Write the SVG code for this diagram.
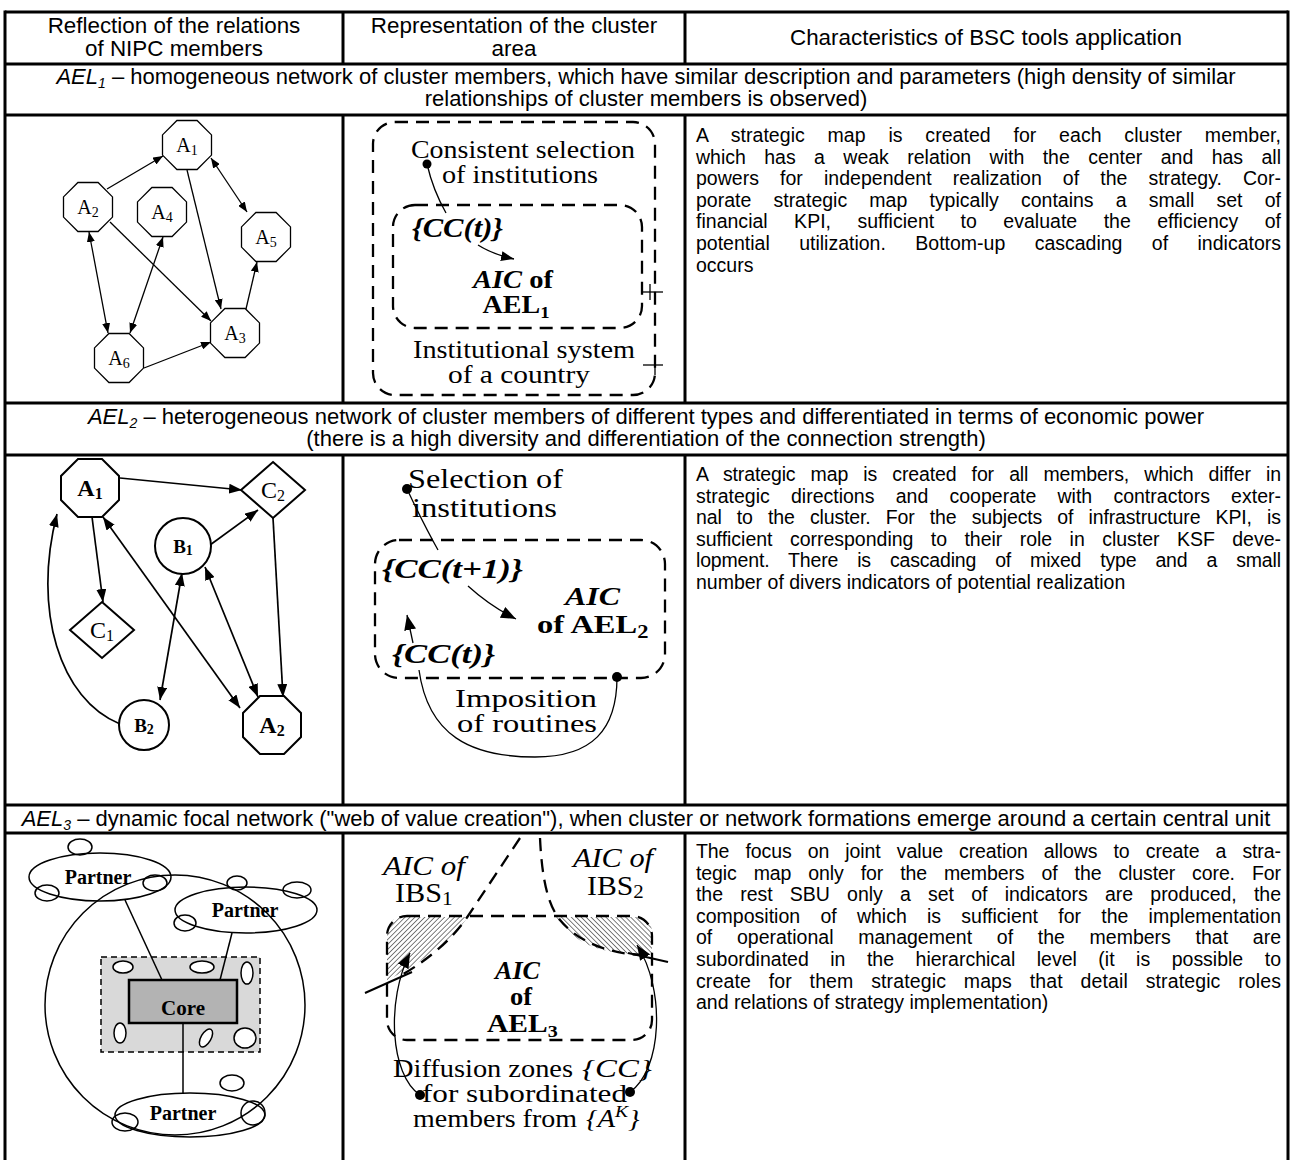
<svg xmlns="http://www.w3.org/2000/svg" width="1293" height="1160" viewBox="0 0 1293 1160">
<defs>
<style>
.sans{font-family:"Liberation Sans",Arial,sans-serif;fill:#000}
.hd{font-size:22.4px}
.ah{font-size:22px}
.bd{font-size:19.5px}
.ser{font-family:"Liberation Serif","Times New Roman",serif;fill:#000}
.grid{stroke:#000;stroke-width:3;fill:none}
.e1{stroke:#000;stroke-width:1.3;fill:none}
.e2{stroke:#000;stroke-width:1.7;fill:none}
.n1{fill:#fff;stroke:#000;stroke-width:1.3}
.n2{fill:#fff;stroke:#000;stroke-width:2}
.dash{fill:none;stroke:#000;stroke-width:2.3;stroke-dasharray:13 8}
.thin{stroke:#000;stroke-width:1.5;fill:none}
</style>
<marker id="a1" markerWidth="10" markerHeight="8" refX="10" refY="4" orient="auto-start-reverse" markerUnits="userSpaceOnUse"><path d="M0,0 L10,4 L0,8 z" fill="#000"/></marker>
<marker id="a2" markerWidth="13" markerHeight="10" refX="13" refY="5" orient="auto-start-reverse" markerUnits="userSpaceOnUse"><path d="M0,0 L13,5 L0,10 z" fill="#000"/></marker>
<marker id="a3" markerWidth="15" markerHeight="12" refX="15" refY="6" orient="auto-start-reverse" markerUnits="userSpaceOnUse"><path d="M0,0 L15,6 L0,12 z" fill="#000"/></marker>
<polygon id="oct1" points="-10.1,-24.5 10.1,-24.5 24.5,-10.1 24.5,10.1 10.1,24.5 -10.1,24.5 -24.5,10.1 -24.5,-10.1"/>
<polygon id="oct2" points="-12,-29 12,-29 29,-12 29,12 12,29 -12,29 -29,12 -29,-12"/>
<pattern id="hatchL" width="3.5" height="3.5" patternUnits="userSpaceOnUse" patternTransform="rotate(45)"><line x1="0" y1="0" x2="0" y2="3.5" stroke="#000" stroke-width="1"/></pattern>
<pattern id="hatchR" width="3.5" height="3.5" patternUnits="userSpaceOnUse" patternTransform="rotate(-45)"><line x1="0" y1="0" x2="0" y2="3.5" stroke="#000" stroke-width="1"/></pattern>
</defs>
<rect width="1293" height="1160" fill="#fff"/>

<g id="table-grid" class="grid">
<line x1="5" y1="12" x2="1288" y2="12"/>
<line x1="5" y1="64" x2="1288" y2="64"/>
<line x1="5" y1="115" x2="1288" y2="115"/>
<line x1="5" y1="403" x2="1288" y2="403"/>
<line x1="5" y1="455" x2="1288" y2="455"/>
<line x1="5" y1="805" x2="1288" y2="805"/>
<line x1="5" y1="833" x2="1288" y2="833"/>
<line x1="5" y1="10.5" x2="5" y2="1160"/>
<line x1="1288" y1="10.5" x2="1288" y2="1160"/>
<line x1="343" y1="12" x2="343" y2="64"/>
<line x1="685" y1="12" x2="685" y2="64"/>
<line x1="343" y1="115" x2="343" y2="403"/>
<line x1="685" y1="115" x2="685" y2="403"/>
<line x1="343" y1="455" x2="343" y2="805"/>
<line x1="685" y1="455" x2="685" y2="805"/>
<line x1="343" y1="833" x2="343" y2="1160"/>
<line x1="685" y1="833" x2="685" y2="1160"/>
</g>

<g id="header" class="sans hd" text-anchor="middle">
<text x="174" y="33">Reflection of the relations</text>
<text x="174" y="56">of NIPC members</text>
<text x="514" y="33">Representation of the cluster</text>
<text x="514" y="56">area</text>
<text x="986" y="45">Characteristics of BSC tools application</text>
</g>

<g id="heading-ael1" class="sans ah" text-anchor="middle">
<text x="646" y="84"><tspan font-style="italic">AEL</tspan><tspan font-style="italic" font-size="14" dy="4">1</tspan><tspan dy="-4"> – homogeneous network of cluster members, which have similar description and parameters (high density of similar</tspan></text>
<text x="646" y="106">relationships of cluster members is observed)</text>
</g>

<g id="heading-ael2" class="sans ah" text-anchor="middle">
<text x="646" y="424"><tspan font-style="italic">AEL</tspan><tspan font-style="italic" font-size="14" dy="4">2</tspan><tspan dy="-4"> – heterogeneous network of cluster members of different types and differentiated in terms of economic power</tspan></text>
<text x="646" y="446">(there is a high diversity and differentiation of the connection strength)</text>
</g>

<g id="heading-ael3" class="sans ah" text-anchor="middle">
<text x="646" y="826"><tspan font-style="italic">AEL</tspan><tspan font-style="italic" font-size="14" dy="4">3</tspan><tspan dy="-4"> – dynamic focal network ("web of value creation"), when cluster or network formations emerge around a certain central unit</tspan></text>
</g>

<g id="text-ael1" class="sans bd">
<text x="696" y="142" word-spacing="17.3" textLength="585" lengthAdjust="spacing">A strategic map is created for each cluster member,</text>
<text x="696" y="163.6" word-spacing="13" textLength="585" lengthAdjust="spacing">which has a weak relation with the center and has all</text>
<text x="696" y="185.2" word-spacing="15.6" textLength="585" lengthAdjust="spacing">powers for independent realization of the strategy. Cor-</text>
<text x="696" y="206.8" word-spacing="16.8" textLength="585" lengthAdjust="spacing">porate strategic map typically contains a small set of</text>
<text x="696" y="228.4" word-spacing="21" textLength="585" lengthAdjust="spacing">financial KPI, sufficient to evaluate the efficiency of</text>
<text x="696" y="250" word-spacing="24" textLength="585" lengthAdjust="spacing">potential utilization. Bottom-up cascading of indicators</text>
<text x="696" y="271.6">occurs</text>
</g>

<g id="text-ael2" class="sans bd">
<text x="696" y="481" word-spacing="9.9" textLength="585" lengthAdjust="spacing">A strategic map is created for all members, which differ in</text>
<text x="696" y="502.6" word-spacing="15.8" textLength="585" lengthAdjust="spacing">strategic directions and cooperate with contractors exter-</text>
<text x="696" y="524.2" word-spacing="9.9" textLength="585" lengthAdjust="spacing">nal to the cluster. For the subjects of infrastructure KPI, is</text>
<text x="696" y="545.8" word-spacing="12.0" textLength="585" lengthAdjust="spacing">sufficient corresponding to their role in cluster KSF deve-</text>
<text x="696" y="567.4" word-spacing="13.8" textLength="585" lengthAdjust="spacing">lopment. There is cascading of mixed type and a small</text>
<text x="696" y="589">number of divers indicators of potential realization</text>
</g>

<g id="text-ael3" class="sans bd">
<text x="696" y="858" word-spacing="10.8" textLength="585" lengthAdjust="spacing">The focus on joint value creation allows to create a stra-</text>
<text x="696" y="879.6" word-spacing="11.7" textLength="585" lengthAdjust="spacing">tegic map only for the members of the cluster core. For</text>
<text x="696" y="901.2" word-spacing="11.9" textLength="585" lengthAdjust="spacing">the rest SBU only a set of indicators are produced, the</text>
<text x="696" y="922.8" word-spacing="14.8" textLength="585" lengthAdjust="spacing">composition of which is sufficient for the implementation</text>
<text x="696" y="944.4" word-spacing="19.3" textLength="585" lengthAdjust="spacing">of operational management of the members that are</text>
<text x="696" y="966" word-spacing="16.1" textLength="585" lengthAdjust="spacing">subordinated in the hierarchical level (it is possible to</text>
<text x="696" y="987.6" word-spacing="12.2" textLength="585" lengthAdjust="spacing">create for them strategic maps that detail strategic roles</text>
<text x="696" y="1009.2">and relations of strategy implementation)</text>
</g>

<!-- AEL1 graph -->
<g id="ael1-connectors" class="e1">
<path d="M107,189 L163,156" marker-end="url(#a1)"/>
<path d="M187,170 L221,309" marker-end="url(#a1)"/>
<path d="M211,158 L247,212" marker-start="url(#a1)" marker-end="url(#a1)"/>
<path d="M110,222 L211,321" marker-end="url(#a1)"/>
<path d="M89,232 L108,333" marker-start="url(#a1)" marker-end="url(#a1)"/>
<path d="M163,237 L130,333" marker-start="url(#a1)" marker-end="url(#a1)"/>
<path d="M246,309 L257,262" marker-end="url(#a1)"/>
<path d="M144,368 L211,342" marker-end="url(#a1)"/>
</g>
<g id="ael1-A1"><use href="#oct1" x="187" y="145" class="n1"/><text x="187" y="152" class="ser" font-size="20" text-anchor="middle">A<tspan font-size="14" dy="3">1</tspan></text></g>
<g id="ael1-A2"><use href="#oct1" x="88" y="207" class="n1"/><text x="88" y="214" class="ser" font-size="20" text-anchor="middle">A<tspan font-size="14" dy="3">2</tspan></text></g>
<g id="ael1-A4"><use href="#oct1" x="162" y="212" class="n1"/><text x="162" y="219" class="ser" font-size="20" text-anchor="middle">A<tspan font-size="14" dy="3">4</tspan></text></g>
<g id="ael1-A5"><use href="#oct1" x="266" y="237" class="n1"/><text x="266" y="244" class="ser" font-size="20" text-anchor="middle">A<tspan font-size="14" dy="3">5</tspan></text></g>
<g id="ael1-A3"><use href="#oct1" x="235" y="333" class="n1"/><text x="235" y="340" class="ser" font-size="20" text-anchor="middle">A<tspan font-size="14" dy="3">3</tspan></text></g>
<g id="ael1-A6"><use href="#oct1" x="119" y="358" class="n1"/><text x="119" y="365" class="ser" font-size="20" text-anchor="middle">A<tspan font-size="14" dy="3">6</tspan></text></g>

<!-- AEL1 cluster area -->
<g id="ael1-area">
<rect x="373" y="122" width="282" height="273" rx="22" class="dash"/>
<rect x="393" y="205" width="249" height="123" rx="22" class="dash"/>
<circle cx="427" cy="164" r="4.5" fill="#000"/>
<path d="M427,164 Q433,190 446,213" class="e1"/>
<path d="M478,245 Q492,254 514,259" class="e1" marker-end="url(#a2)"/>
<line x1="643" y1="292" x2="663" y2="292" class="e1"/>
<line x1="650" y1="284" x2="650" y2="300" class="e1"/>
<line x1="643" y1="365" x2="663" y2="365" class="e1"/>
<line x1="655" y1="356" x2="655" y2="375" class="e1"/>
<g class="ser" font-size="25" text-anchor="middle">
<text x="523" y="158" textLength="224" lengthAdjust="spacingAndGlyphs">Consistent selection</text>
<text x="520" y="183" textLength="156" lengthAdjust="spacingAndGlyphs">of institutions</text>
<text x="524" y="358" textLength="222" lengthAdjust="spacingAndGlyphs">Institutional system</text>
<text x="519" y="383" textLength="142" lengthAdjust="spacingAndGlyphs">of a country</text>
<text transform="translate(513,288) scale(1.12,1)" font-weight="bold" font-size="25.5"><tspan font-style="italic">AIC</tspan> of</text>
<text transform="translate(516,313) scale(1.1,1)" font-weight="bold" font-size="25.5">AEL<tspan font-size="17" dy="5">1</tspan></text>
</g>
<text x="412" y="237" class="ser" font-size="26.5" font-weight="bold" font-style="italic" textLength="91" lengthAdjust="spacingAndGlyphs">{CC(t)}</text>
</g>

<!-- AEL2 graph -->
<g id="ael2-connectors" class="e2">
<path d="M120,478 L242,490" marker-end="url(#a2)"/>
<path d="M92,517 L103,602" marker-end="url(#a2)"/>
<path d="M103,517 L240,708" marker-start="url(#a2)" marker-end="url(#a2)"/>
<path d="M210,545 L258,510" marker-end="url(#a2)"/>
<path d="M205,567 L258,697" marker-start="url(#a2)" marker-end="url(#a2)"/>
<path d="M182,573 L160,700" marker-start="url(#a2)" marker-end="url(#a2)"/>
<path d="M273,518 L283,697" marker-end="url(#a2)"/>
<path d="M120,724 C60,700 32,610 57,514" marker-end="url(#a2)"/>
</g>
<g id="ael2-A1"><use href="#oct2" x="90" y="488" class="n2"/><text x="90" y="496" class="ser" font-size="24" font-weight="bold" text-anchor="middle">A<tspan font-size="16" dy="3">1</tspan></text></g>
<g id="ael2-C2"><polygon points="273,462 305,490 273,518 241,490" class="n2"/><text x="273" y="498" class="ser" font-size="24" text-anchor="middle">C<tspan font-size="16" dy="3">2</tspan></text></g>
<g id="ael2-B1"><circle cx="183" cy="546" r="28" class="n2"/><text x="183" y="553" class="ser" font-size="19" font-weight="bold" text-anchor="middle">B<tspan font-size="14" dy="2">1</tspan></text></g>
<g id="ael2-C1"><polygon points="102,602 134,630 102,658 70,630" class="n2"/><text x="102" y="638" class="ser" font-size="24" text-anchor="middle">C<tspan font-size="16" dy="3">1</tspan></text></g>
<g id="ael2-B2"><circle cx="144" cy="725" r="25" class="n2"/><text x="144" y="732" class="ser" font-size="19" font-weight="bold" text-anchor="middle">B<tspan font-size="14" dy="2">2</tspan></text></g>
<g id="ael2-A2"><use href="#oct2" x="272" y="725" class="n2"/><text x="272" y="733" class="ser" font-size="24" font-weight="bold" text-anchor="middle">A<tspan font-size="16" dy="3">2</tspan></text></g>

<!-- AEL2 cluster area -->
<g id="ael2-area">
<rect x="375" y="540" width="290" height="138" rx="24" class="dash"/>
<circle cx="407" cy="489" r="5" fill="#000"/>
<path d="M407,489 Q424,525 438,550" class="e1"/>
<path d="M468,586 Q490,606 516,619" class="e1" marker-end="url(#a3)"/>
<path d="M413,643 L407,615" class="e1" marker-end="url(#a3)"/>
<path d="M419,670 C428,735 470,757 535,757 C592,757 617,730 617,677" class="e1"/>
<circle cx="617" cy="677" r="5" fill="#000"/>
<g class="ser" font-size="27">
<text x="408" y="488" textLength="155" lengthAdjust="spacingAndGlyphs">Selection of</text>
<text x="412" y="517" textLength="145" lengthAdjust="spacingAndGlyphs">institutions</text>
<text x="382" y="578" font-weight="bold" font-style="italic" textLength="141" lengthAdjust="spacingAndGlyphs">{CC(t+1)}</text>
<text x="565" y="605" font-weight="bold" font-style="italic" font-size="26" textLength="55" lengthAdjust="spacingAndGlyphs">AIC</text>
<text transform="translate(537,633) scale(1.25,1)" font-weight="bold" font-size="26">of AEL<tspan font-size="18" dy="5">2</tspan></text>
<text x="392" y="663" font-weight="bold" font-style="italic" textLength="103" lengthAdjust="spacingAndGlyphs">{CC(t)}</text>
<text x="455" y="707" font-size="25.5" textLength="142" lengthAdjust="spacingAndGlyphs">Imposition</text>
<text x="457" y="732" font-size="25.5" textLength="140" lengthAdjust="spacingAndGlyphs">of routines</text>
</g>
</g>

<!-- AEL3 graph -->
<g id="ael3-graph">
<circle cx="175" cy="1005" r="130" class="thin"/>
<rect x="101" y="957" width="159" height="95" fill="#d9d9d9" stroke="#000" stroke-width="1.5" stroke-dasharray="6 4"/>
<g id="ael3-connectors" class="thin">
<line x1="125" y1="900" x2="162" y2="980"/>
<line x1="232" y1="933" x2="220" y2="980"/>
<line x1="183" y1="1023" x2="183" y2="1093"/>
</g>
<g class="thin">
<ellipse cx="123" cy="967" rx="10" ry="6" fill="#fff"/>
<ellipse cx="202" cy="967" rx="12" ry="6" fill="#fff"/>
<ellipse cx="247" cy="973" rx="6" ry="11" fill="#fff"/>
<ellipse cx="120" cy="1033" rx="6" ry="10" fill="#fff"/>
<ellipse cx="206" cy="1038" rx="5" ry="10" fill="#fff" transform="rotate(30 206 1038)"/>
<ellipse cx="245" cy="1038" rx="11" ry="10" fill="#fff"/>
</g>
<g id="ael3-core"><rect x="129" y="980" width="108" height="43" fill="#b3b3b3" stroke="#000" stroke-width="2.5"/><text x="183" y="1015" class="ser" font-size="21" font-weight="bold" text-anchor="middle">Core</text></g>
<g id="ael3-partner1">
<ellipse cx="100" cy="877" rx="71" ry="24" fill="#fff" class="thin"/>
<ellipse cx="80" cy="847" rx="12" ry="8" fill="#fff" class="thin"/>
<ellipse cx="47" cy="893" rx="12" ry="8" fill="#fff" class="thin"/>
<ellipse cx="155" cy="883" rx="12" ry="8" fill="#fff" class="thin"/>
<text x="98" y="884" class="ser" font-size="20" font-weight="bold" text-anchor="middle">Partner</text>
</g>
<g id="ael3-partner2">
<ellipse cx="246" cy="910" rx="71" ry="23" fill="#fff" class="thin"/>
<ellipse cx="237" cy="883" rx="10" ry="7" fill="#fff" class="thin"/>
<ellipse cx="297" cy="890" rx="14" ry="8" fill="#fff" class="thin"/>
<ellipse cx="185" cy="923" rx="11" ry="8" fill="#fff" class="thin"/>
<text x="245" y="917" class="ser" font-size="20" font-weight="bold" text-anchor="middle">Partner</text>
</g>
<g id="ael3-partner3">
<ellipse cx="190" cy="1115" rx="75" ry="22" fill="#fff" class="thin"/>
<ellipse cx="232" cy="1083" rx="12" ry="8" fill="#fff" class="thin"/>
<ellipse cx="253" cy="1113" rx="12" ry="12" fill="#fff" class="thin"/>
<ellipse cx="125" cy="1122" rx="13" ry="9" fill="#fff" class="thin"/>
<text x="183" y="1120" class="ser" font-size="20" font-weight="bold" text-anchor="middle">Partner</text>
</g>
</g>

<!-- AEL3 cluster area -->
<g id="ael3-area">
<path d="M387,980 L387,935 Q387,917 405,917 L468,917 Q445,950 388,980 Z" fill="url(#hatchL)"/>
<path d="M556,917 L636,917 Q652,917 652,933 L652,954 Q602,956 578,939 Q564,929 556,917 Z" fill="url(#hatchR)"/>
<rect x="387" y="916" width="265" height="124" rx="20" class="dash"/>
<path d="M520,838 L468,916 Q445,950 400,976" class="dash"/>
<path d="M540,838 C542,880 548,905 560,920 C578,942 610,955 648,955" class="dash"/>
<line x1="365" y1="993" x2="412" y2="972" stroke="#000" stroke-width="2"/>
<line x1="628" y1="953" x2="668" y2="962" stroke="#000" stroke-width="2"/>
<path d="M420,1095 C390,1075 386,1000 410,953" class="e1" marker-end="url(#a3)"/>
<path d="M630,1092 C662,1070 666,990 637,945" class="e1" marker-end="url(#a3)"/>
<circle cx="420" cy="1095" r="5" fill="#000"/>
<circle cx="630" cy="1092" r="5" fill="#000"/>
<g class="ser" font-size="27">
<text x="383" y="875" font-style="italic" textLength="82" lengthAdjust="spacingAndGlyphs">AIC of</text>
<text transform="translate(395,902) scale(1.12,1)">IBS<tspan font-size="19" dy="3">1</tspan></text>
<text x="573" y="867" font-style="italic" textLength="80" lengthAdjust="spacingAndGlyphs">AIC of</text>
<text transform="translate(587,895) scale(1.1,1)">IBS<tspan font-size="19" dy="3">2</tspan></text>
<text x="495" y="979" font-weight="bold" font-style="italic" font-size="26" textLength="45" lengthAdjust="spacingAndGlyphs">AIC</text>
<text x="510" y="1005" font-weight="bold" font-size="26" textLength="22" lengthAdjust="spacingAndGlyphs">of</text>
<text transform="translate(487,1032) scale(1.18,1)" font-weight="bold" font-size="25">AEL<tspan font-size="17" dy="5">3</tspan></text>
<text x="393" y="1077" font-size="25" textLength="180" lengthAdjust="spacingAndGlyphs">Diffusion zones</text>
<text x="582" y="1077" font-size="25" font-style="italic" textLength="70" lengthAdjust="spacingAndGlyphs">{CC}</text>
<text x="422" y="1102" font-size="25" textLength="205" lengthAdjust="spacingAndGlyphs">for subordinated</text>
<text x="413" y="1127" font-size="25" textLength="164" lengthAdjust="spacingAndGlyphs">members from</text>
<text transform="translate(586,1127) scale(1.15,1)" font-size="25" font-style="italic">{A<tspan font-size="17" dy="-10">K</tspan><tspan dy="10">}</tspan></text>
</g>
</g>
</svg>
